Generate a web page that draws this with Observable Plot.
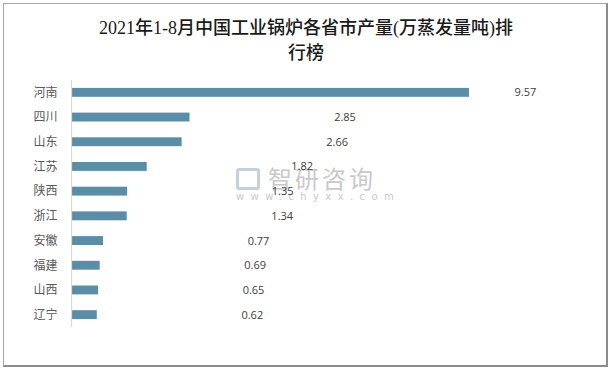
<!DOCTYPE html>
<html><head><meta charset="utf-8">
<script src="https://cdn.jsdelivr.net/npm/d3@7"></script>
<script src="https://cdn.jsdelivr.net/npm/@observablehq/plot@0.6"></script>
<style>
body{margin:0;background:#fff;}
#wrap{position:relative;width:612px;height:370px;overflow:hidden;font-family:"Noto Sans CJK SC","Noto Sans",sans-serif;}
#frame{position:absolute;left:3px;top:3px;width:602px;height:361px;border:1px solid #a6a6a6;border-right:2px solid #8c8c8c;border-bottom:2px solid #8c8c8c;}
#title{position:absolute;left:0;top:16px;width:612px;text-align:center;font-family:"Liberation Serif","Noto Sans CJK SC",serif;font-size:18px;line-height:25px;color:#1a1a1a;font-weight:500;}
#chart{position:absolute;left:0;top:70px;}
#wm{position:absolute;left:236px;top:160px;color:#c9c9c9;pointer-events:none;}
#wm .t{position:absolute;left:32px;top:0;font-size:24px;letter-spacing:3px;white-space:nowrap;font-family:"Noto Sans CJK SC",sans-serif;}
#wm .u{position:absolute;left:0;top:31px;font-size:10px;letter-spacing:6.4px;white-space:nowrap;font-family:"DejaVu Sans",sans-serif;}
#wm .i1{position:absolute;left:0;top:8px;width:24px;height:22px;border:3px solid #c5d0dc;border-radius:3px;box-sizing:border-box;}
</style></head>
<body><div id="wrap">
<div id="frame"></div>
<div id="title">2021年1-8月中国工业锅炉各省市产量(万蒸发量吨)排<br>行榜</div>
<div id="wm"><div class="i1"></div><div class="t">智研咨询</div><div class="u">www.chyxx.com</div></div>
<div id="chart"></div>
</div>
<script>
const provinces = ["河南","四川","山东","江苏","陕西","浙江","安徽","福建","山西","辽宁"];
const output = [9.57, 2.85, 2.66, 1.82, 1.35, 1.34, 0.77, 0.69, 0.65, 0.62];

const data = provinces.map((p, i) => ({province: p, value: output[i]}));

const plot = Plot.plot({
  width: 612,
  height: 300,
  marginLeft: 71,
  marginRight: 42,
  marginTop: 10,
  marginBottom: 43,
  style: {fontFamily: "'Noto Sans CJK SC', 'Noto Sans', sans-serif", background: "transparent"},
  x: {domain: [0, 12], axis: null},
  y: {domain: provinces, paddingInner: 0.64, paddingOuter: 0.32, round: false, label: null},
  marks: [
    Plot.axisY({tickSize: 0, tickPadding: 14, fontSize: 12, color: "#595959", label: null}),
    Plot.barX(data, {x: "value", y: "province", fill: "#5b8ea6", insetLeft: 1}),
    Plot.ruleX([0], {stroke: "#d9d9d9", strokeWidth: 1.2}),
    Plot.text(data.filter(d => d.value < 5), {x: "value", y: "province", text: d => d.value.toFixed(2), dx: 155, fontSize: 11, fill: "#404040", fontFamily: "'Open Sans', 'DejaVu Sans', sans-serif"}),
    Plot.text(data.filter(d => d.value >= 5), {x: "value", y: "province", text: d => d.value.toFixed(2), dx: 56, fontSize: 11, fill: "#404040", fontFamily: "'Open Sans', 'DejaVu Sans', sans-serif"})
  ]
});
document.getElementById("chart").appendChild(plot);
</script>
</body></html>
